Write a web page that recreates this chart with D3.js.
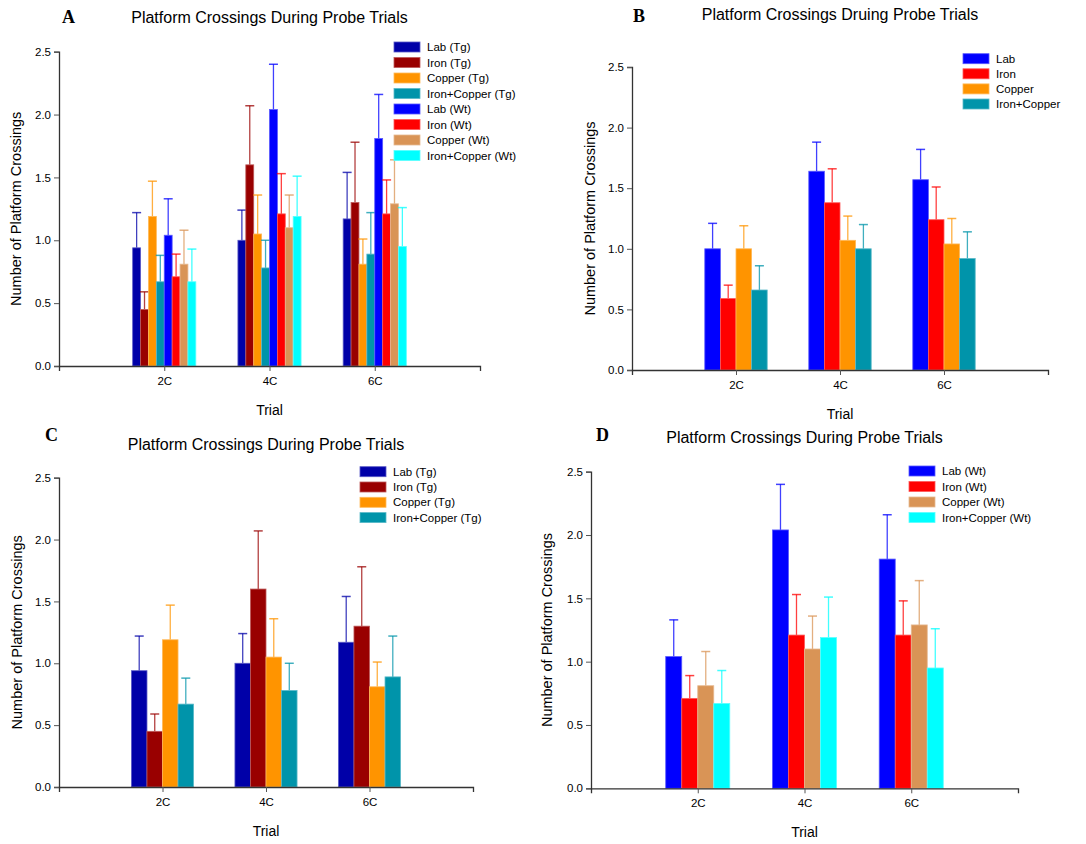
<!DOCTYPE html>
<html>
<head>
<meta charset="utf-8">
<script src="https://cdn.jsdelivr.net/npm/d3@7"></script>
<style>
  body { margin: 0; background: #fff; }
  text { font-family: "Liberation Sans", Arial, sans-serif; fill: #000; }
</style>
</head>
<body>
<svg id="chart" width="1086" height="844"></svg>
<script>
// categories and tick labels
const trials = ['2C', '4C', '6C'];
const yTicks = [0, 0.5, 1.0, 1.5, 2.0, 2.5];

// Tg groups (panel A and C)
const labTg = [0.94, 1.00, 1.17];
const labTgErr = [1.22, 1.24, 1.54];
const ironTg = [0.45, 1.60, 1.30];
const ironTgErr = [0.59, 2.07, 1.78];
const copperTg = [1.19, 1.05, 0.81];
const copperTgErr = [1.47, 1.36, 1.01];
const ironCopperTg = [0.67, 0.78, 0.89];
const ironCopperTgErr = [0.88, 1.00, 1.22];

// Wt groups (panel A and D)
const labWt = [1.04, 2.04, 1.81];
const labWtErr = [1.33, 2.40, 2.16];
const ironWt = [0.71, 1.21, 1.21];
const ironWtErr = [0.89, 1.53, 1.48];
const copperWt = [0.81, 1.10, 1.29];
const copperWtErr = [1.08, 1.36, 1.64];
const ironCopperWt = [0.67, 1.19, 0.95];
const ironCopperWtErr = [0.93, 1.51, 1.26];

// pooled groups (panel B)
const lab = [1.00, 1.64, 1.57];
const labErr = [1.21, 1.88, 1.82];
const iron = [0.59, 1.38, 1.24];
const ironErr = [0.70, 1.66, 1.51];
const copper = [1.00, 1.07, 1.04];
const copperErr = [1.19, 1.27, 1.25];
const ironCopper = [0.66, 1.00, 0.92];
const ironCopperErr = [0.86, 1.20, 1.14];

const colors = {
    labTg: '#0000a8', ironTg: '#990000', copperTg: '#ff9400', icTg: '#0094aa',
    labWt: '#0000ff', ironWt: '#ff0000', copperWt: '#d99456', icWt: '#00ffff'
};

const seriesTg = [
    {name: 'Lab (Tg)', values: labTg, err: labTgErr, color: colors.labTg},
    {name: 'Iron (Tg)', values: ironTg, err: ironTgErr, color: colors.ironTg},
    {name: 'Copper (Tg)', values: copperTg, err: copperTgErr, color: colors.copperTg},
    {name: 'Iron+Copper (Tg)', values: ironCopperTg, err: ironCopperTgErr, color: colors.icTg}
];
const seriesWt = [
    {name: 'Lab (Wt)', values: labWt, err: labWtErr, color: colors.labWt},
    {name: 'Iron (Wt)', values: ironWt, err: ironWtErr, color: colors.ironWt},
    {name: 'Copper (Wt)', values: copperWt, err: copperWtErr, color: colors.copperWt},
    {name: 'Iron+Copper (Wt)', values: ironCopperWt, err: ironCopperWtErr, color: colors.icWt}
];
const seriesAll = [
    {name: 'Lab', values: lab, err: labErr, color: colors.labWt},
    {name: 'Iron', values: iron, err: ironErr, color: colors.ironWt},
    {name: 'Copper', values: copper, err: copperErr, color: colors.copperTg},
    {name: 'Iron+Copper', values: ironCopper, err: ironCopperErr, color: colors.icTg}
];

const svg = d3.select('#chart');

drawPanel = function(p) {
    const g = svg.append('g');
    const x = d3.scaleLinear().domain([0, 4]).range([p.left, p.right]);
    const y = d3.scaleLinear().domain([0, 2.5]).range([p.bottom, p.top]);
    const step = x(1) - x(0);
    const inner = d3.scaleBand()
        .domain(d3.range(p.series.length))
        .range([-step * 0.3, step * 0.3]);
    const bw = inner.bandwidth();

    // bars and error bars
    p.series.forEach((s, si) => {
        const sg = g.append('g');
        sg.selectAll('line.err')
            .data(trials)
            .join('line')
            .attr('x1', (d, i) => x(i + 1) + inner(si) + bw / 2)
            .attr('x2', (d, i) => x(i + 1) + inner(si) + bw / 2)
            .attr('y1', (d, i) => y(s.values[i]))
            .attr('y2', (d, i) => y(s.err[i]))
            .attr('stroke', s.color)
            .attr('stroke-opacity', 0.75)
            .attr('stroke-width', 1.3);
        sg.selectAll('line.cap')
            .data(trials)
            .join('line')
            .attr('x1', (d, i) => x(i + 1) + inner(si) + bw / 2 - 4.5)
            .attr('x2', (d, i) => x(i + 1) + inner(si) + bw / 2 + 4.5)
            .attr('y1', (d, i) => y(s.err[i]))
            .attr('y2', (d, i) => y(s.err[i]))
            .attr('stroke', s.color)
            .attr('stroke-opacity', 0.75)
            .attr('stroke-width', 1.5);
        sg.selectAll('rect')
            .data(trials)
            .join('rect')
            .attr('x', (d, i) => x(i + 1) + inner(si))
            .attr('y', (d, i) => y(s.values[i]))
            .attr('width', bw)
            .attr('height', (d, i) => y(0) - y(s.values[i]))
            .attr('fill', s.color)
            .attr('stroke', d3.interpolateRgb(s.color, '#fff')(0.35))
            .attr('stroke-width', 0.8);
    });

    // axes
    const yAxis = g.append('g')
        .attr('transform', `translate(${p.left},0)`)
        .call(d3.axisLeft(y).tickValues(yTicks).tickFormat(d3.format('.1f')).tickSize(5).tickPadding(3));
    const xAxis = g.append('g')
        .attr('transform', `translate(0,${p.bottom})`)
        .call(d3.axisBottom(x).tickValues([1, 2, 3]).tickFormat((d) => trials[d - 1]).tickSize(5).tickPadding(6));
    [xAxis, yAxis].forEach(a => {
        a.select('.domain').attr('stroke', '#333').attr('stroke-width', 1.3);
        a.selectAll('.tick line').attr('stroke', '#555');
        a.selectAll('.tick text')
            .attr('font-family', '"Liberation Sans", Arial, sans-serif')
            .attr('font-size', 11.5)
            .attr('fill', '#000');
    });

    // titles
    g.append('text')
        .attr('x', (p.left + p.right) / 2)
        .attr('y', p.titleY)
        .attr('text-anchor', 'middle')
        .attr('font-size', 16)
        .text(p.title);
    g.append('text')
        .attr('x', p.letterX)
        .attr('y', p.letterY)
        .attr('font-family', '"Liberation Serif", "Times New Roman", serif')
        .attr('font-weight', 'bold')
        .attr('font-size', 18)
        .style('font-family', '"Liberation Serif", "Times New Roman", serif')
        .text(p.letter);
    g.append('text')
        .attr('x', (p.left + p.right) / 2)
        .attr('y', p.bottom + 49)
        .attr('text-anchor', 'middle')
        .attr('font-size', 14)
        .text('Trial');
    g.append('text')
        .attr('transform', `translate(${p.yTitleX},${(p.top + p.bottom) / 2}) rotate(-90)`)
        .attr('text-anchor', 'middle')
        .attr('font-size', 14.5)
        .text('Number of Platform Crossings');

    // legend
    const lg = g.append('g')
        .attr('transform', `translate(${p.legendX},${p.legendY})`)
        .selectAll('g')
        .data(p.series)
        .join('g')
        .attr('transform', (d, i) => `translate(0,${i * p.legendStep})`);
    lg.append('rect')
        .attr('x', 0).attr('y', -5)
        .attr('width', 26).attr('height', 10)
        .attr('fill', d => d.color)
        .attr('stroke', d => d3.interpolateRgb(d.color, '#fff')(0.35))
        .attr('stroke-width', 0.8);
    lg.append('text')
        .attr('x', 33)
        .attr('y', 4)
        .attr('font-size', 11.5)
        .text(d => d.name);
};

drawPanel({
    letter: 'A', letterX: 62, letterY: 23,
    title: 'Platform Crossings During Probe Trials', titleY: 23,
    left: 59, right: 480, top: 51.7, bottom: 366, yTitleX: 21,
    series: seriesTg.concat(seriesWt),
    legendX: 394, legendY: 47, legendStep: 15.5
});
drawPanel({
    letter: 'B', letterX: 633, letterY: 22,
    title: 'Platform Crossings Druing Probe Trials', titleY: 20,
    left: 632, right: 1048, top: 67, bottom: 370, yTitleX: 595,
    series: seriesAll,
    legendX: 963, legendY: 58.7, legendStep: 15.1
});
drawPanel({
    letter: 'C', letterX: 45, letterY: 441,
    title: 'Platform Crossings During Probe Trials', titleY: 450,
    left: 59, right: 473, top: 477.7, bottom: 787, yTitleX: 22,
    series: seriesTg,
    legendX: 360, legendY: 471.7, legendStep: 15.3
});
drawPanel({
    letter: 'D', letterX: 596, letterY: 441,
    title: 'Platform Crossings During Probe Trials', titleY: 443,
    left: 591, right: 1018, top: 471.7, bottom: 788.3, yTitleX: 552,
    series: seriesWt,
    legendX: 909, legendY: 471, legendStep: 15.5
});
</script>
</body>
</html>
